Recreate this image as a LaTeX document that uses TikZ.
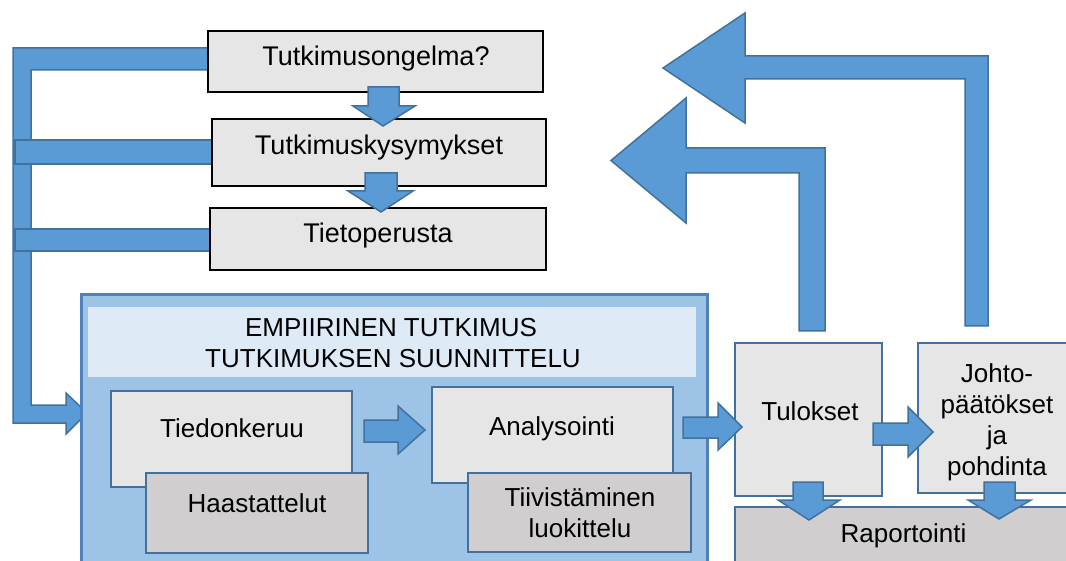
\documentclass[tikz,border=0pt]{standalone}
\usepackage{fontspec}
\setmainfont{Liberation Sans}
\definecolor{arrfill}{HTML}{5B9BD5}
\definecolor{arrdraw}{HTML}{41719C}
\definecolor{topfill}{HTML}{E6E6E6}
\definecolor{lightbox}{HTML}{E7E6E6}
\definecolor{darkbox}{HTML}{D0CECE}
\definecolor{bigfill}{HTML}{9DC3E6}
\definecolor{bigdraw}{HTML}{4F81BD}
\definecolor{headfill}{HTML}{DEEBF7}
\tikzset{
  barrow/.style={fill=arrfill, draw=arrdraw, line width=1.5pt, line join=miter},
  topbox/.style={draw=black, fill=topfill, line width=2.5pt, rectangle, inner sep=0pt},
  lbox/.style={draw=arrdraw, fill=lightbox, line width=2.5pt, rectangle, inner sep=0pt},
  dbox/.style={draw=arrdraw, fill=darkbox, line width=2.5pt, rectangle, inner sep=0pt},
  txt/.style={anchor=base, inner sep=0pt, font=\fontsize{26}{30.7}\selectfont, align=center},
  toptxt/.style={anchor=base, inner sep=0pt, font=\fontsize{27}{31}\selectfont}
}
\begin{document}
\begin{tikzpicture}[x=1pt,y=-1pt]
\path[use as bounding box] (0,0) rectangle (1066,561);
\clip (0,0) rectangle (1066,561);
\fill[white] (0,0) rectangle (1066,561);

% left bracket
\draw[barrow] (87,413) -- (66,393) -- (66,405) -- (31,405) -- (31,70) -- (208,70)
  -- (208,48) -- (13,48) -- (13,423) -- (66,423) -- (66,434) -- cycle;
\draw[barrow] (15,140) rectangle (212,164);
\draw[barrow] (15,229) rectangle (210,251);

% top boxes
\node[topbox, minimum width=335pt, minimum height=61pt] (b1) at (375.5,61.5) {};
\node[topbox, minimum width=334pt, minimum height=67pt] (b2) at (379,152.5) {};
\node[topbox, minimum width=336pt, minimum height=62pt] (b3) at (378,239) {};
\node[toptxt] (t1) at (376,66) {Tutkimusongelma?};
\node[toptxt] (t2) at (379,155) {Tutkimuskysymykset};
\node[toptxt] (t3) at (378,243) {Tietoperusta};

\draw[barrow] (368,87) -- (399,87) -- (399,106) -- (415,106) -- (383,126) -- (353,106) -- (368,106) -- cycle;
\draw[barrow] (365,173) -- (397,173) -- (397,191) -- (413,191) -- (381,212) -- (348,191) -- (365,191) -- cycle;

% big box
\node[draw=bigdraw, fill=bigfill, line width=3pt, rectangle, inner sep=0pt,
      minimum width=626pt, minimum height=290pt] (big) at (394,440) {};
\node[fill=headfill, rectangle, inner sep=0pt, minimum width=608pt, minimum height=70pt] (head) at (392,342) {};
\node[txt] (h1) at (391,337) {EMPIIRINEN TUTKIMUS};
\node[txt] (h2) at (393,367) {TUTKIMUKSEN SUUNNITTELU};

\node[lbox, minimum width=241pt, minimum height=96pt] (tied) at (231.5,439) {};
\node[txt] (tiedt) at (232,437) {Tiedonkeruu};
\node[dbox, minimum width=222pt, minimum height=80pt] (haas) at (257,513) {};
\node[txt] (haast) at (257,512) {Haastattelut};

\node[lbox, minimum width=241pt, minimum height=96pt] (anal) at (552.5,435) {};
\node[txt] (analt) at (552,435) {Analysointi};
\node[dbox, minimum width=223pt, minimum height=79pt] (tiiv) at (579.5,512.5) {};
\node[txt] (tiivt) at (580,537) {Tiivistäminen\\luokittelu};

\draw[barrow] (364,420) -- (398,420) -- (398,406) -- (425,430) -- (398,454) -- (398,442) -- (364,442) -- cycle;

% right side boxes
\node[lbox, minimum width=147pt, minimum height=153pt] (tul) at (808.5,419.5) {};
\node[txt] (tult) at (810,420) {Tulokset};
\node[lbox, minimum width=160pt, minimum height=150pt] (joh) at (998,418) {};
\node[txt] (joht) at (997,475) {Johto-\\päätökset\\ja\\pohdinta};
\node[dbox, minimum width=340pt, minimum height=70pt] (rap) at (905,542) {};
\node[txt] (rapt) at (903.5,542) {Raportointi};

\draw[barrow] (683,417) -- (718,417) -- (718,403) -- (742,427) -- (718,450) -- (718,438) -- (683,438) -- cycle;
\draw[barrow] (873,423) -- (908,423) -- (908,407) -- (933,432) -- (908,457) -- (908,445) -- (873,445) -- cycle;

\draw[barrow] (793,482) -- (823,482) -- (823,500) -- (840,500) -- (809,520) -- (778,500) -- (793,500) -- cycle;
\draw[barrow] (984,482) -- (1015,482) -- (1015,500) -- (1031,500) -- (999,519) -- (968,500) -- (984,500) -- cycle;

% bent up arrows
\draw[barrow] (799,331) -- (799,173) -- (686,173) -- (686,223) -- (611,160.5) -- (686,98)
  -- (686,148) -- (825,148) -- (825,331) -- cycle;
\draw[barrow] (965,326) -- (965,79) -- (745,79) -- (745,123) -- (663,68) -- (745,13)
  -- (745,56) -- (988,56) -- (988,326) -- cycle;
\end{tikzpicture}
\end{document}
